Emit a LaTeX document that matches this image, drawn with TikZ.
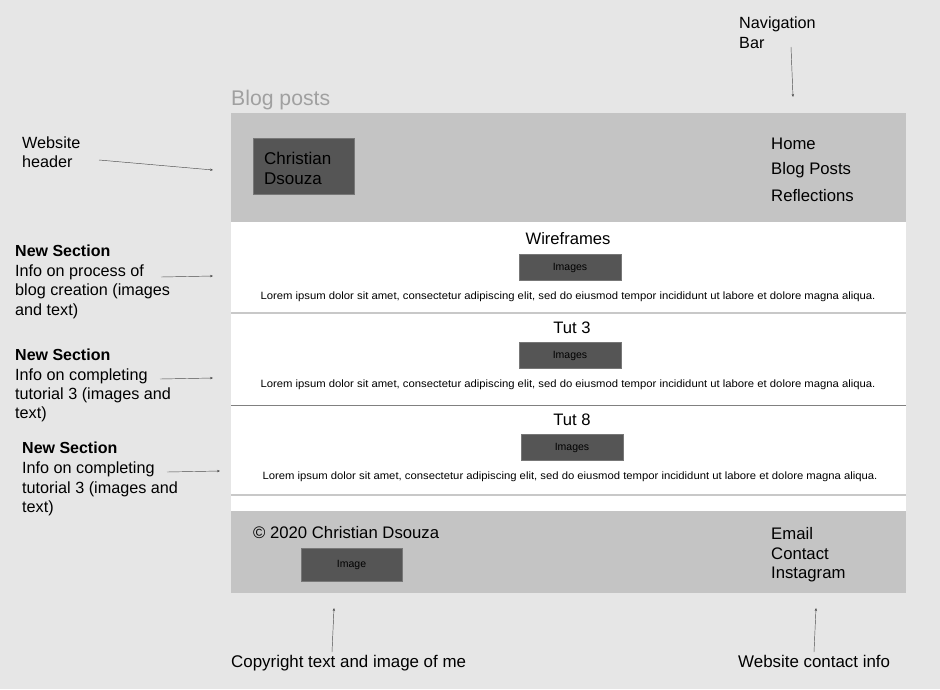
\documentclass[tikz,border=0pt]{standalone}
\usepackage{fontspec}
\setmainfont{Liberation Sans}
\newfontfamily\loremfont[FakeStretch=1.065]{Liberation Sans}
\usetikzlibrary{arrows.meta}
\definecolor{bg}{HTML}{E6E6E6}
\definecolor{hdr}{HTML}{C4C4C4}
\definecolor{dk}{HTML}{555555}
\definecolor{ttl}{HTML}{A0A0A0}
\definecolor{sepl}{HTML}{C8C8C8}
\definecolor{sepd}{HTML}{808080}
\begin{document}
\begin{tikzpicture}[x=1pt,y=-1pt,
  txt/.style={anchor=base west,inner sep=0pt,font=\fontsize{16.2}{19}\selectfont},
  big/.style={txt,font=\fontsize{16.7}{20}\selectfont},
  bld/.style={txt,font=\fontsize{16}{19}\selectfont\bfseries},
  ctr/.style={anchor=base,inner sep=0pt,font=\fontsize{16.6}{19}\selectfont},
  lorem/.style={anchor=base,inner sep=0pt,font=\loremfont\fontsize{10.6}{12}\selectfont},
  imgbox/.style={fill=dk,draw=dk!80!white,line width=0.5pt,inner sep=0pt,font=\fontsize{10.5}{12}\selectfont},
  arr/.style={draw=black!70,line width=0.45pt,-{Stealth[length=3pt,width=2.4pt]}}]
\useasboundingbox[fill=bg] (0,0) rectangle (940,689);
% page areas
\fill[hdr] (231,113) rectangle (906,222);
\fill[white] (231,222) rectangle (906,511);
\fill[hdr] (231,511) rectangle (906,593);
\draw[sepl,line width=1.6pt] (231,313) -- (906,313);
\draw[sepd,line width=0.8pt] (231,405) -- (906,405);
\draw[sepl,line width=1.6pt] (231,495) -- (906,495);
% title
\node[txt,font=\fontsize{21.2}{24}\selectfont,text=ttl] (blog) at (231,105) {Blog posts};
% header
\node[imgbox,minimum width=101pt,minimum height=56pt] (namebox) at (303.5,166) {};
\node[txt,font=\fontsize{17}{20}\selectfont] (n1) at (264,164) {Christian};
\node[txt,font=\fontsize{17}{20}\selectfont] (n2) at (264,184) {Dsouza};
\node[big] (home) at (771,149) {Home};
\node[big] (bp) at (771,174) {Blog Posts};
\node[big] (refl) at (771,201) {Reflections};
% sections
\node[ctr] (s1) at (568,244) {Wireframes};
\node[imgbox,minimum width=102pt,minimum height=26pt,text depth=0pt] (i1) at (570,267) {Images};
\node[lorem] (l1) at (568,299) {Lorem ipsum dolor sit amet, consectetur adipiscing elit, sed do eiusmod tempor incididunt ut labore et dolore magna aliqua.};
\node[ctr] (s2) at (572,333) {Tut 3};
\node[imgbox,minimum width=102pt,minimum height=26pt,text depth=0pt] (i2) at (570,355) {Images};
\node[lorem] (l2) at (568,387) {Lorem ipsum dolor sit amet, consectetur adipiscing elit, sed do eiusmod tempor incididunt ut labore et dolore magna aliqua.};
\node[ctr] (s3) at (572,425) {Tut 8};
\node[imgbox,minimum width=102pt,minimum height=26pt,text depth=0pt] (i3) at (572,447) {Images};
\node[lorem] (l3) at (570,479) {Lorem ipsum dolor sit amet, consectetur adipiscing elit, sed do eiusmod tempor incididunt ut labore et dolore magna aliqua.};
% footer
\node[big] (copy) at (253,538) {© 2020 Christian Dsouza};
\node[imgbox,minimum width=101pt,minimum height=33pt] (fimg) at (351.5,564.5) {Image};
\node[big] (email) at (771,539) {Email};
\node[big] (contact) at (771,559) {Contact};
\node[big] (insta) at (771,578) {Instagram};
% annotations
\node[txt] (nav1) at (739,28) {Navigation};
\node[txt] (nav2) at (739,48) {Bar};
\node[txt] (wh1) at (22,148) {Website};
\node[txt] (wh2) at (22,167) {header};
\node[bld] (a1) at (15,256) {New Section};
\node[txt] (a2) at (15,276) {Info on process of};
\node[txt] (a3) at (15,295) {blog creation (images};
\node[txt] (a4) at (15,315) {and text)};
\node[bld] (b1) at (15,360) {New Section};
\node[txt] (b2) at (15,380) {Info on completing};
\node[txt] (b3) at (15,399) {tutorial 3 (images and};
\node[txt] (b4) at (15,418) {text)};
\node[bld] (c1) at (22,453) {New Section};
\node[txt] (c2) at (22,473) {Info on completing};
\node[txt] (c3) at (22,493) {tutorial 3 (images and};
\node[txt] (c4) at (22,512) {text)};
\node[big,font=\fontsize{16.9}{20}\selectfont] (cpy) at (231,667) {Copyright text and image of me};
\node[big,font=\fontsize{16.9}{20}\selectfont] (wci) at (738,667) {Website contact info};
% arrow ends
\coordinate (navS) at (791,47);  \coordinate (navE) at (793,97);
\coordinate (whS) at (99,160);   \coordinate (whE) at (213,170);
\coordinate (aS) at (161,277);   \coordinate (aE) at (213,276);
\coordinate (bS) at (160,379);   \coordinate (bE) at (213,378);
\coordinate (cS) at (167,472);   \coordinate (cE) at (220,471);
\coordinate (cpS) at (332,652);  \coordinate (cpE) at (334,608);
\coordinate (wcS) at (814,652);  \coordinate (wcE) at (816,608);
\draw[arr] (navS) -- (navE);
\draw[arr] (whS) -- (whE);
\draw[arr] (aS) -- (aE);
\draw[arr] (bS) -- (bE);
\draw[arr] (cS) -- (cE);
\draw[arr] (cpS) -- (cpE);
\draw[arr] (wcS) -- (wcE);
\end{tikzpicture}
\end{document}
